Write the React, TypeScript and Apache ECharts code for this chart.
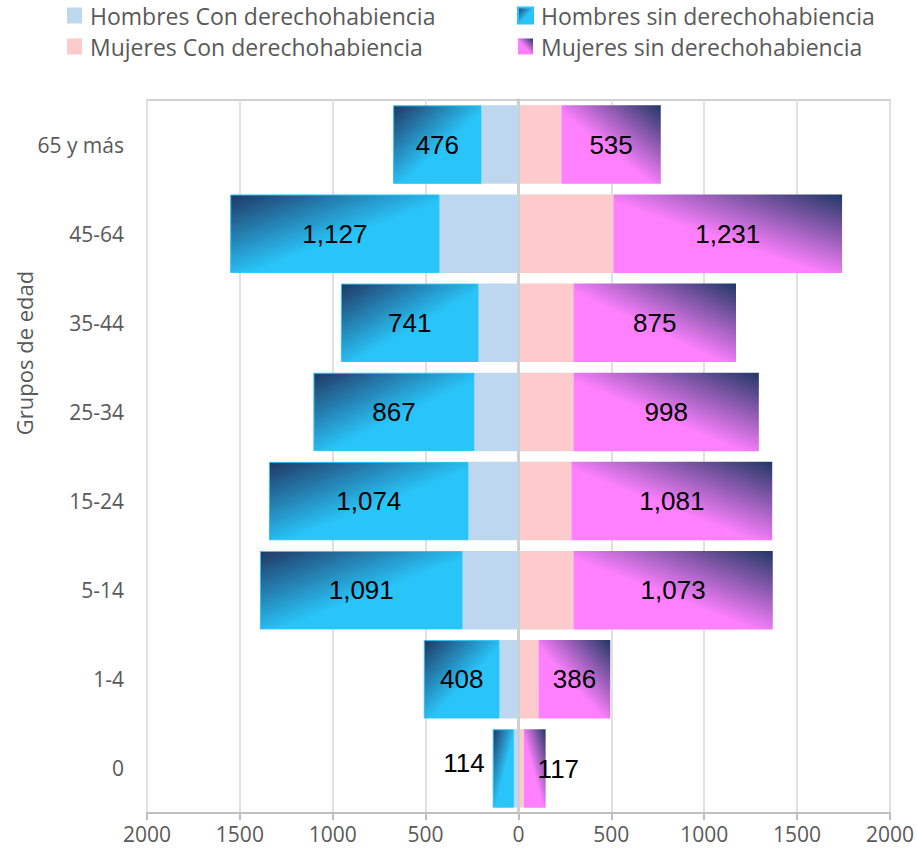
import React, { useEffect, useRef } from "react";
import * as echarts from "echarts";

const categories = ["0", "1-4", "5-14", "15-24", "25-34", "35-44", "45-64", "65 y más"];
const hombresCon = [25, 102, 301, 269, 237, 215, 425, 199];
const hombresSin = [114, 408, 1091, 1074, 867, 741, 1127, 476];
const mujeresCon = [29, 108, 296, 285, 296, 296, 511, 231];
const mujeresSin = [117, 386, 1073, 1081, 998, 875, 1231, 535];
const seriesNames = [
  "Hombres Con derechohabiencia",
  "Hombres sin derechohabiencia",
  "Mujeres Con derechohabiencia",
  "Mujeres sin derechohabiencia",
];
const xTicks = { min: -2000, max: 2000, interval: 500 };

const NAVY = "#203864";
const CYAN = "#29C5F9";
const MAGENTA = "#FF80FF";
const TEXT_FONT = "'Open Sans', sans-serif";

const fmtNum = (v: number) => Math.abs(v).toLocaleString("en-US");

export default function App() {
  const ref = useRef<HTMLDivElement>(null);
  useEffect(() => {
    if (!ref.current) return;
    const chart = echarts.init(ref.current, null, { renderer: "svg" });

    const menGrad = new echarts.graphic.LinearGradient(0, 0, 1, 1, [
      { offset: 0, color: NAVY },
      { offset: 0.55, color: CYAN },
      { offset: 1, color: CYAN },
    ]);
    const womenGrad = new echarts.graphic.LinearGradient(1, 0, 0, 1, [
      { offset: 0, color: NAVY },
      { offset: 0.55, color: MAGENTA },
      { offset: 1, color: MAGENTA },
    ]);

    const labelBase = {
      show: true,
      position: "inside",
      color: "#000",
      fontSize: 26,
      fontFamily: "'Liberation Sans', Arial, sans-serif",
      formatter: (p: any) => fmtNum(p.value),
    };

    const menSinData = hombresSin.map((v, i) =>
      i === 0
        ? { value: -v, label: { position: "left", distance: 5, offset: [-3, -5] } }
        : -v
    );
    const womenSinData = mujeresSin.map((v, i) =>
      i === 0 ? { value: v, label: { position: "right", distance: 5, offset: [-13, 1] } } : v
    );

    const legendBase = {
      orient: "vertical",
      top: 4,
      padding: 0,
      icon: "rect",
      itemWidth: 15,
      itemHeight: 16,
      itemGap: 8,
      selectedMode: false,
      textStyle: {
        color: "#595959",
        fontSize: 23,
        fontFamily: TEXT_FONT,
        lineHeight: 23,
        padding: [0, 0, 0, 3],
      },
    };

    chart.setOption({
      animation: false,
      backgroundColor: "#fff",
      textStyle: { fontFamily: TEXT_FONT },
      legend: [
        { ...legendBase, data: [seriesNames[0], seriesNames[2]], left: 67 },
        { ...legendBase, data: [seriesNames[1], seriesNames[3]], left: 517 },
      ],
      grid: {
        left: 147,
        right: 27,
        top: 100,
        bottom: 41,
        show: true,
        borderColor: "#D0D0D0",
        borderWidth: 2,
      },
      xAxis: {
        type: "value",
        min: xTicks.min,
        max: xTicks.max,
        interval: xTicks.interval,
        axisLine: { show: true, lineStyle: { color: "#BFBFBF", width: 2 } },
        axisTick: { show: true, length: 7, lineStyle: { color: "#BFBFBF", width: 2 } },
        axisLabel: {
          color: "#595959",
          fontSize: 21,
          fontFamily: TEXT_FONT,
          margin: 10,
          formatter: (v: number) => String(Math.abs(v)),
        },
        splitLine: { show: true, lineStyle: { color: "#E0E0E0", width: 2 } },
      },
      yAxis: {
        type: "category",
        data: categories,
        axisLine: { show: true, lineStyle: { color: "#BFBFBF", width: 2.5 } },
        axisTick: { show: false },
        axisLabel: {
          color: "#595959",
          fontSize: 21,
          fontFamily: TEXT_FONT,
          margin: 23,
        },
      },
      graphic: [
        {
          type: "text",
          x: 24,
          y: 353,
          rotation: Math.PI / 2,
          style: {
            text: "Grupos de edad",
            fill: "#595959",
            fontSize: 22,
            fontFamily: TEXT_FONT,
            textAlign: "center",
            textVerticalAlign: "middle",
          },
        },
      ],
      series: [
        {
          name: seriesNames[0],
          type: "bar",
          stack: "total",
          barCategoryGap: "12%",
          data: hombresCon.map((v) => -v),
          itemStyle: { color: "#BDD7EE" },
        },
        {
          name: seriesNames[1],
          type: "bar",
          stack: "total",
          barCategoryGap: "12%",
          data: menSinData,
          itemStyle: { color: menGrad, borderColor: CYAN, borderWidth: 1 },
          label: labelBase,
        },
        {
          name: seriesNames[2],
          type: "bar",
          stack: "total",
          barCategoryGap: "12%",
          data: mujeresCon,
          itemStyle: { color: "#FDCBCB" },
          markLine: {
            silent: true,
            symbol: "none",
            label: { show: false },
            lineStyle: { color: "#D0D0D0", width: 2, type: "solid" },
            data: [{ xAxis: 0 }],
          },
        },
        {
          name: seriesNames[3],
          type: "bar",
          stack: "total",
          barCategoryGap: "12%",
          data: womenSinData,
          itemStyle: { color: womenGrad },
          label: labelBase,
        },
      ],
    });
    return () => chart.dispose();
  }, []);
  return <div ref={ref} style={{ width: 917, height: 854, position: "absolute", left: 0, top: 0 }} />;
}
